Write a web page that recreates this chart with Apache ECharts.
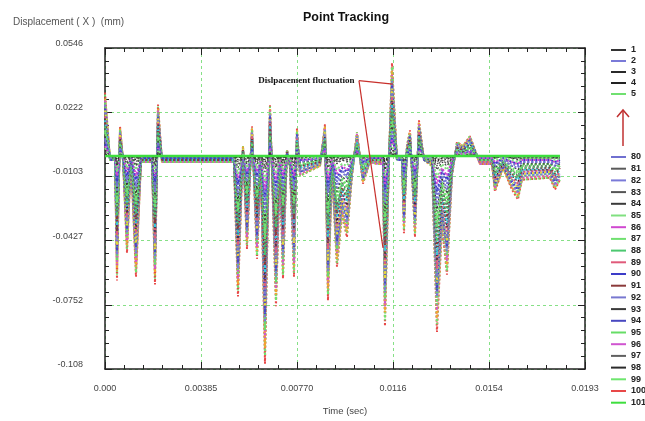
<!DOCTYPE html>
<html>
<head>
<meta charset="utf-8">
<script src="https://cdn.jsdelivr.net/npm/echarts@6/dist/echarts.min.js"></script>
<style>
  html, body { margin: 0; padding: 0; background: #fff; }
  #main { width: 645px; height: 421px; }
</style>
</head>
<body>
<div id="main"></div>
<script>
// sample instants (sec)
const time = [
  0, 0.000201, 0.000401, 0.000481, 0.000602, 0.000722, 0.000882, 0.001043, 0.001243, 0.001444, 0.001885, 0.002005,
  0.002125, 0.002286, 0.00381, 0.005173, 0.005333, 0.005534, 0.005694, 0.005895, 0.006095, 0.006256,
  0.006416, 0.006617, 0.006857, 0.007018, 0.007138, 0.007298, 0.007419, 0.007579, 0.007699, 0.00782,
  0.008622, 0.008822, 0.008942, 0.009103, 0.009303, 0.009504, 0.009704, 0.009905, 0.010105, 0.010346,
  0.010627, 0.010947, 0.011148, 0.011228, 0.011388, 0.011509, 0.011709, 0.01191, 0.01199, 0.01211, 0.012231, 0.012431, 0.012591,
  0.012792, 0.013113, 0.013313, 0.013514, 0.013714, 0.013915, 0.014115, 0.014356, 0.014637, 0.015038, 0.015519,
  0.015639, 0.01596, 0.016321, 0.016561, 0.016722, 0.017845, 0.018045, 0.018246
];

// displacement of the tracked points, in 1e-3 mm
const p100 = [
  32,-2,-2,-63,15,-2,-49,-2,-61,-3,-3,-65,
  26,-3,-3,-3,-71,5,-47,15,-52,-6,
  -105,26,-76,-6,-62,3,-6,-61,14,-10,
  -5,16,-73,-8,-56,-30,-41,-10,12,-14,
  -3,-4,-4,-86,-2,47,-2,-2,-39,5,13,-41,18,
  -2,-5,-89,-35,-60,-10,7,5,10,-4,-4,
  -18,-6,-17,-22,-12,-11,-17,-12
];
const p99 = [
  31,-2,-2,-60,14,-2,-47,-2,-59,-3,-3,-62,
  25,-3,-3,-3,-68,5,-45,14,-50,-6,
  -101,25,-73,-6,-60,3,-6,-59,13,-10,
  -5,15,-70,-8,-54,-29,-39,-10,12,-13,
  -3,-4,-4,-83,-2,45,-2,-2,-37,5,12,-39,17,
  -2,-5,-85,-34,-58,-10,7,5,10,-4,-4,
  -17,-6,-16,-21,-12,-11,-16,-12
];
const p40 = [
  29,-2,-2,-58,14,-2,-45,-2,-56,-3,-3,-60,
  24,-3,-3,-3,-65,5,-43,14,-48,-6,
  -97,24,-70,-6,-57,3,-6,-56,13,-9,
  -5,15,-67,-7,-52,-28,-38,-9,11,-13,
  -3,-4,-4,-79,-2,43,-2,-2,-36,5,12,-38,17,
  -2,-5,-82,-32,-55,-9,6,5,9,-4,-4,
  -17,-6,-16,-20,-11,-10,-16,-11
];
const p96 = [
  28,-2,-2,-55,13,-2,-43,-2,-54,-3,-3,-57,
  23,-3,-3,-3,-62,4,-41,13,-46,-5,
  -92,23,-67,-5,-55,3,-5,-54,12,-9,
  -4,14,-64,-7,-49,-26,-36,-9,11,-12,
  -3,-4,-4,-76,-2,41,-2,-2,-34,4,11,-36,16,
  -2,-4,-78,-31,-53,-9,6,4,9,-4,-4,
  -16,-5,-15,-19,-11,-10,-15,-11
];
const p95 = [
  27,-2,-2,-53,13,-2,-41,-2,-51,-3,-3,-55,
  22,-3,-3,-3,-60,4,-39,13,-44,-5,
  -88,22,-64,-5,-52,3,-5,-51,12,-8,
  -4,13,-61,-7,-47,-25,-34,-8,10,-12,
  -3,-3,-3,-72,-2,39,-2,-2,-33,4,11,-34,15,
  -2,-4,-75,-29,-50,-8,6,4,8,-3,-3,
  -15,-5,-14,-18,-10,-9,-14,-10
];
const p2 = [
  26,-2,-2,-50,12,-2,-39,-2,-49,-2,-2,-52,
  21,-2,-2,-2,-57,4,-38,12,-42,-5,
  -84,21,-61,-5,-50,2,-5,-49,11,-8,
  -4,13,-58,-6,-45,-24,-33,-8,10,-11,
  -2,-3,-3,-69,-2,38,-2,-2,-31,4,10,-33,14,
  -2,-4,-71,-28,-48,-8,6,4,8,-3,-3,
  -14,-5,-14,-18,-10,-9,-14,-10
];
const p94 = [
  24,-2,-2,-48,11,-2,-37,-2,-46,-2,-2,-49,
  20,-2,-2,-2,-54,4,-36,11,-40,-5,
  -80,20,-58,-5,-47,2,-5,-46,11,-8,
  -4,12,-55,-6,-43,-23,-31,-8,9,-11,
  -2,-3,-3,-65,-2,36,-2,-2,-30,4,10,-31,14,
  -2,-4,-68,-27,-46,-8,5,4,8,-3,-3,
  -14,-5,-13,-17,-9,-8,-13,-9
];
const p60 = [
  23,-1,-1,-45,11,-1,-35,-1,-44,-2,-2,-47,
  19,-2,-2,-2,-51,4,-34,11,-37,-4,
  -76,19,-55,-4,-45,2,-4,-44,10,-7,
  -4,12,-53,-6,-40,-22,-30,-7,9,-10,
  -2,-3,-3,-62,-1,34,-1,-1,-28,4,9,-30,13,
  -1,-4,-64,-25,-43,-7,5,4,7,-3,-3,
  -13,-4,-12,-16,-9,-8,-12,-9
];
const p92 = [
  22,-1,-1,-43,10,-1,-33,-1,-41,-2,-2,-44,
  18,-2,-2,-2,-48,3,-32,10,-35,-4,
  -71,18,-52,-4,-42,2,-4,-41,10,-7,
  -3,11,-50,-5,-38,-20,-28,-7,8,-10,
  -2,-3,-3,-58,-1,32,-1,-1,-27,3,9,-28,12,
  -1,-3,-61,-24,-41,-7,5,3,7,-3,-3,
  -12,-4,-12,-15,-8,-7,-12,-8
];
const p89 = [
  20,-1,-1,-40,10,-1,-31,-1,-39,-2,-2,-42,
  17,-2,-2,-2,-45,3,-30,10,-33,-4,
  -67,17,-49,-4,-40,2,-4,-39,9,-6,
  -3,10,-47,-5,-36,-19,-26,-6,8,-9,
  -2,-3,-3,-55,-1,30,-1,-1,-25,3,8,-26,12,
  -1,-3,-57,-22,-38,-6,4,3,6,-3,-3,
  -12,-4,-11,-14,-8,-7,-11,-8
];
const p98 = [
  19,-1,-1,-38,9,-1,-29,-1,-37,-2,-2,-39,
  16,-2,-2,-2,-43,3,-28,9,-31,-4,
  -63,16,-46,-4,-37,2,-4,-37,8,-6,
  -3,10,-44,-5,-34,-18,-25,-6,7,-8,
  -2,-2,-2,-52,-1,28,-1,-1,-23,3,8,-25,11,
  -1,-3,-53,-21,-36,-6,4,3,6,-2,-2,
  -11,-4,-10,-13,-7,-7,-10,-7
];
const p30 = [
  18,-1,-1,-35,8,-1,-27,-1,-34,-2,-2,-36,
  15,-2,-2,-2,-40,3,-26,8,-29,-3,
  -59,15,-43,-3,-35,2,-3,-34,8,-6,
  -3,9,-41,-4,-31,-17,-23,-6,7,-8,
  -2,-2,-2,-48,-1,26,-1,-1,-22,3,7,-23,10,
  -1,-3,-50,-20,-34,-6,4,3,6,-2,-2,
  -10,-3,-10,-12,-7,-6,-10,-7
];
const p91 = [
  17,-1,-1,-33,8,-1,-25,-1,-32,-2,-2,-34,
  14,-2,-2,-2,-37,3,-24,8,-27,-3,
  -55,14,-40,-3,-32,2,-3,-32,7,-5,
  -3,8,-38,-4,-29,-16,-21,-5,6,-7,
  -2,-2,-2,-45,-1,24,-1,-1,-20,3,7,-21,9,
  -1,-3,-46,-18,-31,-5,4,3,5,-2,-2,
  -9,-3,-9,-11,-6,-6,-9,-6
];
const p88 = [
  15,-1,-1,-30,7,-1,-24,-1,-29,-1,-1,-31,
  12,-1,-1,-1,-34,2,-23,7,-25,-3,
  -50,12,-36,-3,-30,1,-3,-29,7,-5,
  -2,8,-35,-4,-27,-14,-20,-5,6,-7,
  -1,-2,-2,-41,-1,23,-1,-1,-19,2,6,-20,9,
  -1,-2,-43,-17,-29,-5,3,2,5,-2,-2,
  -9,-3,-8,-11,-6,-5,-8,-6
];
const p97 = [
  14,-1,-1,-28,7,-1,-22,-1,-27,-1,-1,-29,
  11,-1,-1,-1,-31,2,-21,7,-23,-3,
  -46,11,-33,-3,-27,1,-3,-27,6,-4,
  -2,7,-32,-4,-25,-13,-18,-4,5,-6,
  -1,-2,-2,-38,-1,21,-1,-1,-17,2,6,-18,8,
  -1,-2,-39,-15,-26,-4,3,2,4,-2,-2,
  -8,-3,-7,-10,-5,-5,-7,-5
];
const p87 = [
  13,-1,-1,-25,6,-1,-20,-1,-24,-1,-1,-26,
  10,-1,-1,-1,-28,2,-19,6,-21,-2,
  -42,10,-30,-2,-25,1,-2,-24,6,-4,
  -2,6,-29,-3,-22,-12,-16,-4,5,-6,
  -1,-2,-2,-34,-1,19,-1,-1,-16,2,5,-16,7,
  -1,-2,-36,-14,-24,-4,3,2,4,-2,-2,
  -7,-2,-7,-9,-5,-4,-7,-5
];
const p5 = [
  12,-1,-1,-23,5,-1,-18,-1,-22,-1,-1,-23,
  9,-1,-1,-1,-26,2,-17,5,-19,-2,
  -38,9,-27,-2,-22,1,-2,-22,5,-4,
  -2,6,-26,-3,-20,-11,-15,-4,4,-5,
  -1,-1,-1,-31,-1,17,-1,-1,-14,2,5,-15,6,
  -1,-2,-32,-13,-22,-4,3,2,4,-1,-1,
  -6,-2,-6,-8,-4,-4,-6,-4
];
const p93 = [
  10,-1,-1,-20,5,-1,-16,-1,-20,-1,-1,-21,
  8,-1,-1,-1,-23,2,-15,5,-17,-2,
  -34,8,-24,-2,-20,1,-2,-20,4,-3,
  -2,5,-23,-3,-18,-10,-13,-3,4,-4,
  -1,-1,-1,-28,-1,15,-1,-1,-12,2,4,-13,6,
  -1,-2,-28,-11,-19,-3,2,2,3,-1,-1,
  -6,-2,-5,-7,-4,-4,-5,-4
];
const p82 = [
  9,-1,-1,-18,4,-1,-14,-1,-17,-1,-1,-18,
  7,-1,-1,-1,-20,1,-13,4,-15,-2,
  -29,7,-21,-2,-17,1,-2,-17,4,-3,
  -1,4,-20,-2,-16,-8,-11,-3,3,-4,
  -1,-1,-1,-24,-1,13,-1,-1,-11,1,4,-11,5,
  -1,-1,-25,-10,-17,-3,2,1,3,-1,-1,
  -5,-2,-5,-6,-3,-3,-5,-3
];
const p80 = [
  8,0,0,-15,4,0,-12,0,-15,-1,-1,-16,
  6,-1,-1,-1,-17,1,-11,4,-12,-1,
  -25,6,-18,-1,-15,1,-1,-15,3,-2,
  -1,4,-18,-2,-13,-7,-10,-2,3,-3,
  -1,-1,-1,-21,0,11,0,0,-9,1,3,-10,4,
  0,-1,-21,-8,-14,-2,2,1,2,-1,-1,
  -4,-1,-4,-5,-3,-3,-4,-3
];
const p90 = [
  6,0,0,-13,3,0,-10,0,-12,-1,-1,-13,
  5,-1,-1,-1,-14,1,-9,3,-10,-1,
  -21,5,-15,-1,-12,1,-1,-12,3,-2,
  -1,3,-15,-2,-11,-6,-8,-2,2,-3,
  -1,-1,-1,-17,0,9,0,0,-8,1,3,-8,4,
  0,-1,-18,-7,-12,-2,1,1,2,-1,-1,
  -4,-1,-3,-4,-2,-2,-3,-2
];
const p86 = [
  5,0,0,-10,2,0,-8,0,-10,0,0,-10,
  4,0,0,0,-11,1,-8,2,-8,-1,
  -17,4,-12,-1,-10,0,-1,-10,2,-2,
  -1,3,-12,-1,-9,-5,-7,-2,2,-2,
  0,-1,-1,-14,0,8,0,0,-6,1,2,-7,3,
  0,-1,-14,-6,-10,-2,1,1,2,-1,-1,
  -3,-1,-3,-4,-2,-2,-3,-2
];
const p85 = [
  4,0,0,-8,2,0,-6,0,-7,0,0,-8,
  3,0,0,0,-9,1,-6,2,-6,-1,
  -13,3,-9,-1,-7,0,-1,-7,2,-1,
  -1,2,-9,-1,-7,-4,-5,-1,1,-2,
  0,0,0,-10,0,6,0,0,-5,1,2,-5,2,
  0,-1,-11,-4,-7,-1,1,1,1,0,0,
  -2,-1,-2,-3,-1,-1,-2,-1
];
const p84 = [
  3,0,0,-5,1,0,-4,0,-5,0,0,-5,
  2,0,0,0,-6,0,-4,1,-4,0,
  -8,2,-6,0,-5,0,0,-5,1,-1,
  0,1,-6,-1,-4,-2,-3,-1,1,-1,
  0,0,0,-7,0,4,0,0,-3,0,1,-3,1,
  0,0,-7,-3,-5,-1,1,0,1,0,0,
  -1,0,-1,-2,-1,-1,-1,-1
];
const p83 = [
  2,0,0,-4,1,0,-3,0,-4,0,0,-4,
  2,0,0,0,-4,0,-3,1,-3,0,
  -6,2,-5,0,-4,0,0,-4,1,-1,
  0,1,-4,0,-3,-2,-2,-1,1,-1,
  0,0,0,-5,0,3,0,0,-2,0,1,-2,1,
  0,0,-5,-2,-4,-1,0,0,1,0,0,
  -1,0,-1,-1,-1,-1,-1,-1
];
const p81 = [
  1,0,0,-3,1,0,-2,0,-3,0,0,-3,
  1,0,0,0,-3,0,-2,1,-2,0,
  -5,1,-3,0,-3,0,0,-3,1,0,
  0,1,-3,0,-3,-1,-2,0,1,-1,
  0,0,0,-4,0,2,0,0,-2,0,1,-2,1,
  0,0,-4,-2,-3,0,0,0,0,0,0,
  -1,0,-1,-1,-1,0,-1,-1
];
const p4 = [
  1,0,0,-2,0,0,-1,0,-2,0,0,-2,
  1,0,0,0,-2,0,-1,0,-2,0,
  -3,1,-2,0,-2,0,0,-2,0,0,
  0,0,-2,0,-2,-1,-1,0,0,0,
  0,0,0,-3,0,1,0,0,-1,0,0,-1,1,
  0,0,-3,-1,-2,0,0,0,0,0,0,
  -1,0,-1,-1,0,0,-1,0
];
const p3 = [
  1,0,0,-1,0,0,-1,0,-1,0,0,-1,
  1,0,0,0,-1,0,-1,0,-1,0,
  -2,1,-2,0,-1,0,0,-1,0,0,
  0,0,-1,0,-1,-1,-1,0,0,0,
  0,0,0,-2,0,1,0,0,-1,0,0,-1,0,
  0,0,-2,-1,-1,0,0,0,0,0,0,
  0,0,0,0,0,0,0,0
];
const p1 = [
  0,0,0,-1,0,0,0,0,-1,0,0,-1,
  0,0,0,0,-1,0,0,0,-1,0,
  -1,0,-1,0,-1,0,0,-1,0,0,
  0,0,-1,0,-1,0,0,0,0,0,
  0,0,0,-1,0,0,0,0,0,0,0,0,0,
  0,0,-1,0,-1,0,0,0,0,0,0,
  0,0,0,0,0,0,0,0
];
const p101 = [
  0,0,0,0,0,0,0,0,0,0,0,0,
  0,0,0,0,0,0,0,0,0,0,
  0,0,0,0,0,0,0,0,0,0,
  0,0,0,0,0,0,0,0,0,0,
  0,0,0,0,0,0,0,0,0,0,0,0,0,
  0,0,0,0,0,0,0,0,0,0,0,
  0,0,0,0,0,0,0,0
];

const xTickLabels = ['0.000', '0.00385', '0.00770', '0.0116', '0.0154', '0.0193'];
const yTickLabels = ['-0.108', '-0.0752', '-0.0427', '-0.0103', '0.0222', '0.0546'];
const legendTop = ['1', '2', '3', '4', '5'];
const legendBottom = ['80', '81', '82', '83', '84', '85', '86', '87', '88', '89', '90',
  '91', '92', '93', '94', '95', '96', '97', '98', '99', '100', '101'];

// annotation: label anchor and the two pointer ends (sec, mm)
const noteFrom = [0.010185, 0.0381];
const noteTo = [[0.011549, 0.0363], [0.011148, -0.0465]];

// draw order: deepest first so shallower points sit on top
const tracks = [
  ['100', '#e84848', p100], ['99', '#6ee66e', p99], ['40', '#f5a030', p40],
  ['96', '#d055d0', p96], ['95', '#66dd66', p95], ['2', '#7a7ad8', p2],
  ['94', '#4848c0', p94], ['60', '#e6d83a', p60], ['92', '#7878d0', p92],
  ['89', '#e05a7a', p89], ['98', '#2b2b2b', p98], ['30', '#38c8dc', p30],
  ['91', '#8b3a3a', p91], ['88', '#4cc870', p88], ['97', '#606060', p97],
  ['87', '#70e070', p87], ['5', '#70e070', p5], ['93', '#3a3a3a', p93],
  ['82', '#7a7ad8', p82], ['80', '#7070d0', p80], ['90', '#3c3cc8', p90],
  ['86', '#d048d0', p86], ['85', '#80e080', p85], ['84', '#3a3a3a', p84],
  ['83', '#555555', p83], ['81', '#5a5a5a', p81], ['4', '#222222', p4],
  ['3', '#2a2a2a', p3], ['1', '#333333', p1]
];
const darkTracks = ['98', '97', '93', '84', '83', '81', '4', '3', '1'];

const FONT = '"Liberation Sans", Arial, sans-serif';
const yMin = -0.1077, yMax = 0.0546;
const yStep = (yMax - yMin) / 5;

const series = tracks.map(([name, color, vals]) => ({
  name: name,
  type: 'line',
  symbol: 'none',
  silent: true,
  color: color,
  lineStyle: { width: darkTracks.includes(name) ? 1.2 : 2, type: [2, 2], color: color },
  data: vals.map((v, i) => [time[i], v / 1000])
}));

series.push({
  name: '101',
  type: 'line',
  symbol: 'none',
  silent: true,
  color: '#3ede3e',
  lineStyle: { width: 2.5, color: '#3ede3e' },
  data: p101.map((v, i) => [time[i], v / 1000]),
  markLine: {
    silent: true,
    symbol: 'none',
    label: { show: false },
    lineStyle: { color: '#c8302c', width: 1.2, type: 'solid' },
    data: noteTo.map(p => [{ coord: noteFrom }, { coord: p }])
  },
  markPoint: {
    silent: true,
    symbol: 'circle',
    symbolSize: 1,
    itemStyle: { color: 'rgba(0,0,0,0)' },
    label: {
      show: true,
      position: 'left',
      distance: 4,
      formatter: 'Dislpacement fluctuation',
      fontFamily: '"Liberation Serif", "Times New Roman", serif',
      fontWeight: 'bold',
      fontSize: 9,
      color: '#111'
    },
    data: [{ coord: noteFrom }]
  }
});

function frameAxis(extra) {
  return Object.assign({
    type: 'value',
    axisLine: { show: true, onZero: false, lineStyle: { color: '#222', width: 1.5 } },
    axisTick: { show: true, inside: true, length: 7, lineStyle: { color: '#222' } },
    minorTick: { show: true, splitNumber: 5, length: 4, lineStyle: { color: '#222' } },
    splitLine: { show: false },
    axisLabel: { show: false }
  }, extra);
}

const gridLine = { show: true, lineStyle: { color: '#86e086', type: [3, 3], width: 1 } };

const legendText = { fontFamily: FONT, fontSize: 9, fontWeight: 'bold', color: '#222', lineHeight: 10 };

const option = {
  animation: false,
  backgroundColor: '#fff',
  title: {
    text: 'Point Tracking',
    left: 341,
    top: 6,
    textAlign: 'center',
    textStyle: { fontFamily: FONT, fontSize: 12.5, fontWeight: 'bold', color: '#111' }
  },
  grid: { left: 105, top: 48, width: 480, height: 329 },
  legend: [{
    data: legendTop,
    orient: 'vertical',
    left: 611,
    top: 45,
    padding: 0,
    selectedMode: false,
    icon: 'rect',
    itemWidth: 15,
    itemHeight: 2,
    itemGap: 1,
    textStyle: legendText
  }, {
    data: legendBottom,
    orient: 'vertical',
    left: 611,
    top: 152,
    padding: 0,
    selectedMode: false,
    icon: 'rect',
    itemWidth: 15,
    itemHeight: 2,
    itemGap: 1.7,
    textStyle: legendText
  }],
  xAxis: [
    frameAxis({
      position: 'bottom',
      min: 0, max: 0.01925, interval: 0.00385,
      splitLine: gridLine,
      axisLabel: {
        show: true, margin: 15, fontFamily: FONT, fontSize: 9, color: '#444',
        formatter: (v, i) => xTickLabels[i] ?? ''
      },
      name: 'Time (sec)',
      nameLocation: 'middle',
      nameGap: 37,
      nameTextStyle: { fontFamily: FONT, fontSize: 9.5, color: '#444' }
    }),
    frameAxis({ position: 'top', min: 0, max: 0.01925, interval: 0.00385 })
  ],
  yAxis: [
    frameAxis({
      position: 'left',
      min: yMin, max: yMax, interval: yStep,
      splitLine: gridLine,
      axisLabel: {
        show: true, margin: 22, fontFamily: FONT, fontSize: 9, color: '#444',
        verticalAlign: 'bottom',
        formatter: (v, i) => yTickLabels[i] ?? ''
      }
    }),
    frameAxis({ position: 'right', min: yMin, max: yMax, interval: yStep })
  ],
  graphic: [{
    type: 'text',
    left: 13,
    top: 17,
    style: { text: 'Displacement ( X )  (mm)', fontFamily: FONT, fontSize: 10, fill: '#555' }
  }, {
    type: 'line',
    shape: { x1: 623, y1: 146, x2: 623, y2: 110 },
    style: { stroke: '#c03030', lineWidth: 1.5 }
  }, {
    type: 'polyline',
    shape: { points: [[617, 117], [623, 110], [629, 117]] },
    style: { stroke: '#c03030', fill: null, lineWidth: 1.5 }
  }],
  series: series
};

const chart = echarts.init(document.getElementById('main'));
chart.setOption(option);
</script>
</body>
</html>
